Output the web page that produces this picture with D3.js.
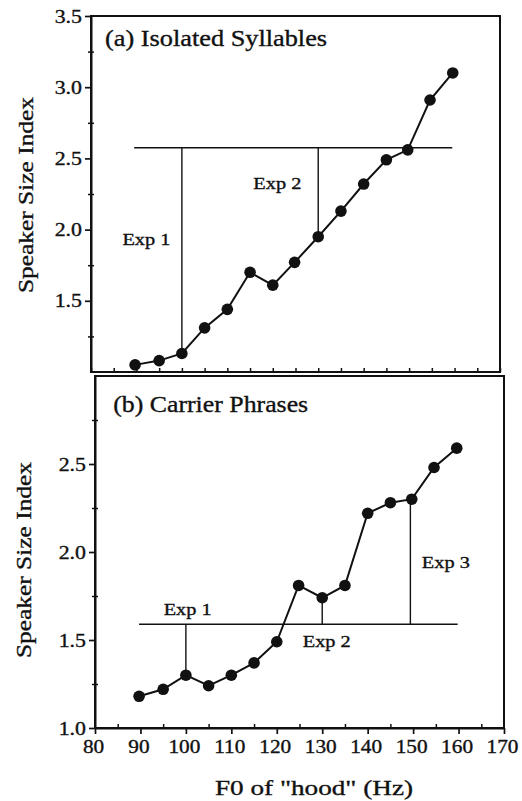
<!DOCTYPE html>
<html><head><meta charset="utf-8">
<script src="https://cdn.jsdelivr.net/npm/d3@7"></script>
<style>
html,body{margin:0;padding:0;background:#fff;}
svg{display:block;}
text{font-family:"Liberation Serif","Times New Roman",serif;fill:#111;stroke:#111;stroke-width:0.35px;}
</style></head><body>
<svg id="c" width="522" height="801"></svg>
<script>
// ---- data ----
const f0 = [89.7, 95, 100, 105, 110, 115, 120, 124.8, 130, 135, 140, 145, 149.7, 154.6, 159.6];
const isolatedIndex = [1.05, 1.08, 1.13, 1.31, 1.44, 1.70, 1.61, 1.77, 1.95, 2.13, 2.32, 2.49, 2.56, 2.91, 3.10];
const carrierIndex  = [1.18, 1.22, 1.30, 1.24, 1.30, 1.37, 1.49, 1.81, 1.74, 1.81, 2.22, 2.28, 2.30, 2.48, 2.59];

const xTicks = [80, 90, 100, 110, 120, 130, 140, 150, 160, 170];
const xMinorTicks = [85, 95, 105, 115, 125, 135, 145, 155, 165];
const yTicksTop = [1.5, 2.0, 2.5, 3.0, 3.5];
const yMinorTop = [1.25, 1.75, 2.25, 2.75, 3.25];
const yTicksBottom = [1.0, 1.5, 2.0, 2.5];
const yMinorBottom = [1.25, 1.75, 2.25, 2.75];

const panelTitles = ["(a) Isolated Syllables", "(b) Carrier Phrases"];
const yTitle = "Speaker Size Index";
const xTitle = "F0 of \"hood\" (Hz)";

// reference (experiment) lines
const isolatedRefLevel = 2.575;
const isolatedRefSpan = [89.5, 159.5];
const isolatedExpX = [100, 130];
const isolatedExpEnd = [1.13, 1.95];
const isolatedExpLabels = ["Exp 1", "Exp 2"];
const isolatedExpLabelX = [92.2, 121.0];
const isolatedExpLabelY = [1.89, 2.285];

const carrierRefLevel = 1.59;
const carrierRefSpan = [89.7, 159.8];
const carrierExpX = [100, 130, 149.4];
const carrierExpEnd = [1.30, 1.74, 2.30];
const carrierExpLabels = ["Exp 1", "Exp 2", "Exp 3"];
const carrierExpLabelX = [100.4, 131.0, 157.2];
const carrierExpLabelY = [1.642, 1.46, 1.909];

// ---- drawing ----
const svg = d3.select("#c");
const INK = "#111";

function stretch(sel, k) {
  sel.each(function () {
    const w = this.getComputedTextLength();
    this.setAttribute("textLength", w * k);
    this.setAttribute("lengthAdjust", "spacingAndGlyphs");
  });
}

const panels = [
  { xr: [91, 500], yr: [372, 16], yd: [1.0, 3.5], vals: isolatedIndex, ticks: yTicksTop, minor: yMinorTop,
    title: panelTitles[0], titleAt: [83.1, 3.289], titleW: 222,
    ref: isolatedRefLevel, span: isolatedRefSpan, ex: isolatedExpX, ee: isolatedExpEnd,
    labs: isolatedExpLabels, lx: isolatedExpLabelX, ly: isolatedExpLabelY,
    yTitleX: 33, bottomLabels: false },
  { xr: [95, 504], yr: [728, 376], yd: [1.0, 3.0], vals: carrierIndex, ticks: yTicksBottom, minor: yMinorBottom,
    title: panelTitles[1], titleAt: [84.0, 2.795], titleW: 195,
    ref: carrierRefLevel, span: carrierRefSpan, ex: carrierExpX, ee: carrierExpEnd,
    labs: carrierExpLabels, lx: carrierExpLabelX, ly: carrierExpLabelY,
    yTitleX: 31, bottomLabels: true }
];

panels.forEach(p => {
  const x = d3.scaleLinear().domain([80, 170]).range(p.xr);
  const y = d3.scaleLinear().domain(p.yd).range(p.yr);
  const g = svg.append("g");

  // frame
  g.append("rect")
    .attr("x", x(80)).attr("y", y(p.yd[1]))
    .attr("width", x(170) - x(80)).attr("height", y(p.yd[0]) - y(p.yd[1]))
    .attr("fill", "none").attr("stroke", INK).attr("stroke-width", 2);

  // y axis major
  const ya = g.append("g").attr("transform", `translate(${x(80)},0)`)
    .call(d3.axisLeft(y).tickValues(p.ticks).tickSize(6).tickSizeOuter(0).tickPadding(3)
      .tickFormat(d3.format(".1f")));
  ya.select(".domain").attr("stroke", INK).attr("stroke-width", 2);
  ya.selectAll(".tick line").attr("stroke", INK).attr("stroke-width", 1.7);
  ya.selectAll(".tick text").attr("font-size", 19).attr("fill", INK)
    .attr("font-family", "Liberation Serif");
  stretch(ya.selectAll(".tick text"), 1.15);
  // y minor ticks (both sides)
  [3, -3].forEach(s => {
    const ym = g.append("g").attr("transform", `translate(${x(80)},0)`)
      .call(d3.axisLeft(y).tickValues(p.minor).tickSize(s).tickSizeOuter(0).tickFormat(""));
    ym.select(".domain").remove();
    ym.selectAll(".tick line").attr("stroke", INK).attr("stroke-width", 1.5);
  });

  // x axis
  if (p.bottomLabels) {
    const xa = g.append("g").attr("transform", `translate(0,${y(p.yd[0])})`)
      .call(d3.axisBottom(x).tickValues(xTicks).tickSize(6).tickSizeOuter(0).tickPadding(6)
        .tickFormat(d3.format("d")));
    xa.select(".domain").attr("stroke", INK).attr("stroke-width", 2);
    xa.selectAll(".tick line").attr("stroke", INK).attr("stroke-width", 1.7);
    xa.selectAll(".tick text").attr("font-size", 19).attr("fill", INK)
      .attr("font-family", "Liberation Serif").attr("dx", -2);
    stretch(xa.selectAll(".tick text"), 1.12);
    const xm = g.append("g").attr("transform", `translate(0,${y(p.yd[0])})`)
      .call(d3.axisBottom(x).tickValues(xMinorTicks).tickSize(-4).tickSizeOuter(0).tickFormat(""));
    xm.select(".domain").remove();
    xm.selectAll(".tick line").attr("stroke", INK).attr("stroke-width", 1.5);
  } else {
    const xm = g.append("g").attr("transform", `translate(0,${y(p.yd[0])})`)
      .call(d3.axisBottom(x).tickValues(xTicks.concat(xMinorTicks)).tickSize(-4).tickSizeOuter(0).tickFormat(""));
    xm.select(".domain").remove();
    xm.selectAll(".tick line").attr("stroke", INK).attr("stroke-width", 1.5);
  }

  // reference lines
  g.append("line")
    .attr("x1", x(p.span[0])).attr("x2", x(p.span[1]))
    .attr("y1", y(p.ref)).attr("y2", y(p.ref))
    .attr("stroke", INK).attr("stroke-width", 1.5);
  g.selectAll("line.exp").data(p.ex).join("line").attr("class", "exp")
    .attr("x1", d => x(d)).attr("x2", d => x(d))
    .attr("y1", y(p.ref)).attr("y2", (d, i) => y(p.ee[i]))
    .attr("stroke", INK).attr("stroke-width", 1.4);

  // exp labels
  g.selectAll("text.exp").data(p.labs).join("text").attr("class", "exp")
    .attr("x", (d, i) => x(p.lx[i])).attr("y", (d, i) => y(p.ly[i]))
    .attr("text-anchor", "middle").attr("font-size", 17)
    .attr("textLength", 48).attr("lengthAdjust", "spacingAndGlyphs")
    .text(d => d);

  // data line + markers
  const pts = f0.map((v, i) => [v, p.vals[i]]);
  g.append("path").datum(pts)
    .attr("d", d3.line().x(d => x(d[0])).y(d => y(d[1])))
    .attr("fill", "none").attr("stroke", INK).attr("stroke-width", 2);
  g.selectAll("circle").data(pts).join("circle")
    .attr("cx", d => x(d[0])).attr("cy", d => y(d[1])).attr("r", 5.8)
    .attr("fill", INK);

  // panel title
  g.append("text").attr("x", x(p.titleAt[0])).attr("y", y(p.titleAt[1]))
    .attr("font-size", 23).attr("textLength", p.titleW).attr("lengthAdjust", "spacingAndGlyphs")
    .text(p.title);

  // y title
  const cy = (y(p.yd[0]) + y(p.yd[1])) / 2;
  g.append("text")
    .attr("transform", `translate(${p.yTitleX},${cy + (p.bottomLabels ? 8 : 1)}) rotate(-90)`)
    .attr("text-anchor", "middle").attr("font-size", 22)
    .attr("textLength", 196).attr("lengthAdjust", "spacingAndGlyphs")
    .text(yTitle);
});

// x title
svg.append("text").attr("x", 314).attr("y", 795)
  .attr("text-anchor", "middle").attr("font-size", 22)
  .attr("textLength", 198).attr("lengthAdjust", "spacingAndGlyphs")
  .text(xTitle);
</script>
</body></html>
